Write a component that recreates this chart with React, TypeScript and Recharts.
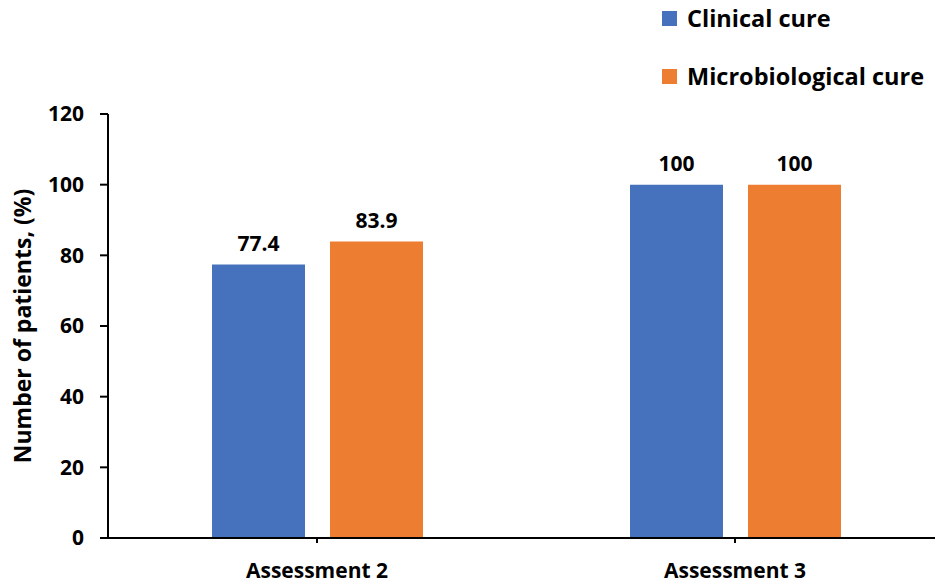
import React from 'react';
import { BarChart, Bar, XAxis, YAxis, LabelList } from 'recharts';

const categories = ['Assessment 2', 'Assessment 3'];
const clinicalCure = [77.4, 100];
const microbiologicalCure = [83.9, 100];
const yTicks = [0, 20, 40, 60, 80, 100, 120];

const data = categories.map((c, i) => ({
  name: c,
  clinical: clinicalCure[i],
  micro: microbiologicalCure[i],
}));

const FONT = '"Open Sans", Lato, sans-serif';
const BLUE = '#4672BD';
const ORANGE = '#ED7D31';

const legendItems = [
  { label: 'Clinical cure', color: BLUE },
  { label: 'Microbiological cure', color: ORANGE },
];

const YLabel = () => (
  <text
    x={22}
    y={326}
    transform="rotate(-90 22 326)"
    textAnchor="middle"
    dominantBaseline="central"
    fontFamily={FONT}
    fontWeight={700}
    fontSize={23}
    fill="#000"
  >
    Number of patients, (%)
  </text>
);

export default function App() {
  return (
    <div style={{ position: 'absolute', left: 0, top: 0, width: 935, height: 586, overflow: 'hidden', background: '#fff' }}>
      <div style={{ position: 'absolute', left: 662, top: 2, fontFamily: FONT, fontWeight: 700, fontSize: 23.5, color: '#000', zIndex: 2 }}>
        {legendItems.map((it, i) => (
          <div key={i} style={{ display: 'flex', alignItems: 'center', height: 32, marginBottom: i === 0 ? 26 : 0 }}>
            <span style={{ display: 'inline-block', width: 15, height: 15, background: it.color, marginRight: 10 }} />
            <span style={{ whiteSpace: 'nowrap' }}>{it.label}</span>
          </div>
        ))}
      </div>
      <BarChart
        width={960}
        height={586}
        data={data}
        margin={{ top: 114, right: 16, bottom: 0, left: 0 }}
        barGap={25}
        barSize={93}
      >
        <XAxis
          dataKey="name"
          height={48}
          axisLine={{ stroke: '#000', strokeWidth: 2 }}
          tickLine={{ stroke: '#000', strokeWidth: 2 }}
          tickSize={5}
          tickMargin={20}
          tick={{ fontFamily: FONT, fontWeight: 700, fontSize: 21, fill: '#000' }}
        />
        <YAxis
          width={108}
          domain={[0, 120]}
          ticks={yTicks}
          interval={0}
          axisLine={{ stroke: '#000', strokeWidth: 2 }}
          tickLine={{ stroke: '#000', strokeWidth: 2 }}
          tickSize={8}
          tickMargin={16}
          tick={{ fontFamily: FONT, fontWeight: 700, fontSize: 21, fill: '#000' }}
        />
        <Bar dataKey="clinical" name="Clinical cure" fill={BLUE} isAnimationActive={false}>
          <LabelList dataKey="clinical" position="top" offset={14} style={{ fontFamily: FONT, fontWeight: 700, fontSize: 21, fill: '#000' }} />
        </Bar>
        <Bar dataKey="micro" name="Microbiological cure" fill={ORANGE} isAnimationActive={false}>
          <LabelList dataKey="micro" position="top" offset={14} style={{ fontFamily: FONT, fontWeight: 700, fontSize: 21, fill: '#000' }} />
        </Bar>
        <YLabel />
      </BarChart>
    </div>
  );
}
